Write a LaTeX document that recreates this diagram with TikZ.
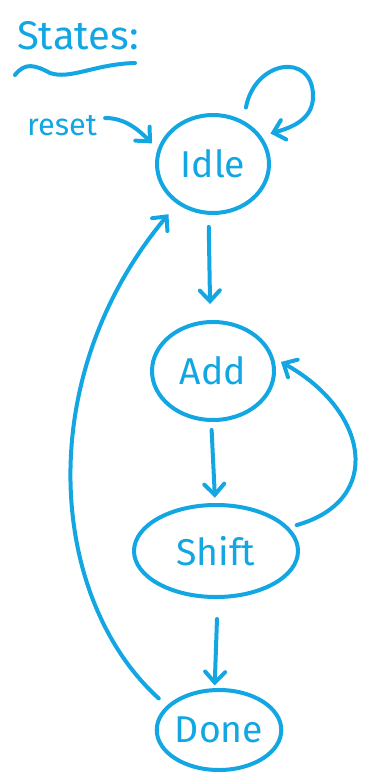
\documentclass[tikz,border=0pt]{standalone}
\usepackage{fontspec}
\setmainfont{Fira Sans}
\usetikzlibrary{shapes.geometric,arrows.meta}
\definecolor{ink}{RGB}{18,166,226}
\tikzset{
  pen/.style={draw=ink, line width=3pt, line cap=round, line join=round},
  state/.style={pen, ellipse, inner sep=0pt, text=ink, font=\fontsize{28}{30}\selectfont},
  arr/.style={pen, -{Straight Barb[length=8pt,width=15pt,line cap=round]}},
  hand/.style={text=ink, inner sep=0pt}
}
\begin{document}
\begin{tikzpicture}[x=0.75pt,y=-0.75pt]
\useasboundingbox (0,0) rectangle (368,774);

% title and its wavy underline
\node[hand, font=\fontsize{30}{32}\selectfont] (title) at (78,36) {States:};
\draw[pen] (15,75) .. controls (25,62) and (35,65) .. (50,73)
           .. controls (70,80) and (95,64) .. (135,63);

% states
\node[state, minimum width=84pt, minimum height=73.5pt] (idle) at (213,164) {Idle};
\node[state, minimum width=91.5pt, minimum height=73.5pt] (add) at (213,371) {Add};
\node[state, minimum width=123pt, minimum height=69pt] (shift) at (216,551) {Shift};
\node[state, minimum width=82.5pt, minimum height=60pt] (done) at (219,730) {Done};

% reset entry
\node[hand, font=\fontsize{23}{25}\selectfont] (reset) at (62,126) {reset};
\draw[arr, shorten >=6pt] (reset.east) ++(8,-8) coordinate (rs)
      (rs) .. controls (122,118) and (135,126) .. (idle.165);

% transitions
\draw[arr, shorten <=10pt, shorten >=7pt] (idle.55) .. controls (255,60) and (312,52) .. (313,95)
      .. controls (314,120) and (290,128) .. (idle.30);
\draw[arr, shorten <=9pt, shorten >=12pt] (idle.265) -- (add.93);
\draw[arr, shorten <=6pt, shorten >=4pt] (add.268) -- (shift.91);
\draw[arr, shorten <=15pt, shorten >=2pt] (shift.272) -- (done.96);
\draw[arr, shorten <=6pt, shorten >=6pt] (shift.18) .. controls (385,500) and (368,410) .. (add.12);
\draw[arr, shorten <=8pt, shorten >=10pt] (done.155) .. controls (50,600) and (30,380) .. (idle.228);
\end{tikzpicture}
\end{document}
